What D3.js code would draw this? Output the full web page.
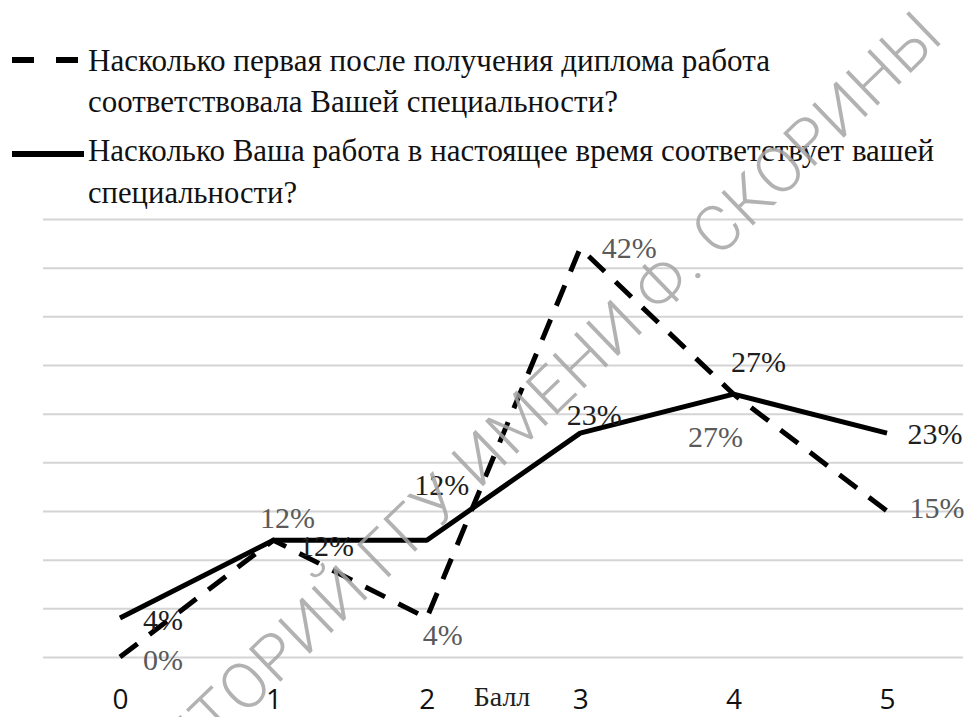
<!DOCTYPE html>
<html>
<head>
<meta charset="utf-8">
<script src="https://cdn.jsdelivr.net/npm/d3@7"></script>
<style>
  body { margin: 0; background: #fff; }
  svg { display: block; }
</style>
</head>
<body>
<div class="chart"></div>
<script>
// Scores 0..5 on the x axis.
var categories = [0, 1, 2, 3, 4, 5];
var tickLabels = ['0', '1', '2', '3', '4', '5'];

// Share of answers, %.
var firstJob = [0, 12, 4, 42, 27, 15];
var currentJob = [4, 12, 12, 23, 27, 23];

var firstJobName = ['Насколько первая после получения диплома работа',
                    'соответствовала  Вашей специальности?'];
var currentJobName = ['Насколько Ваша работа в настоящее время соответствует вашей',
                      'специальности?'];
var axisTitle = 'Балл';
var watermark = 'РЕПОЗИТОРИЙ ГГУ ИМЕНИ Ф. СКОРИНЫ';

// Where each value label sits relative to its point (dx, dy).
var firstJobLabelPos = [[43, 13], [14, -12], [16, 27], [49, 10], [-18, 53], [50, 7]];
var currentJobLabelPos = [[43, 12], [53, 16], [15, -45], [14, -8], [25, -22], [48, 11]];

var serif = '"Liberation Serif", "DejaVu Serif", serif';

drawChart();

function drawChart() {
  const width = 968;
  const height = 717;

  var svg = d3.select('.chart')
              .append('svg')
              .attr('width', width)
              .attr('height', height);

  // Score --> horizontal position
  var x = d3.scalePoint()
            .domain(categories)
            .range([120, 887]);

  // 0..45 % --> bottom..top of the plot
  var y = d3.scaleLinear()
            .domain([0, 45])
            .range([657, 219]);

  // Horizontal gridlines every 5 %, no labels.
  var grid = d3.axisLeft(y)
               .tickValues(d3.range(0, 46, 5))
               .tickSize(920)
               .tickFormat('');

  var gg = svg.append('g')
              .attr('transform', 'translate(963,0)')
              .call(grid);
  gg.select('.domain').remove();
  gg.selectAll('line')
    .attr('stroke', '#d4d4d4')
    .attr('stroke-width', 2);

  // Category labels under the plot.
  var xAxis = d3.axisBottom(x)
                .tickSize(0)
                .tickFormat(function (d, i) { return tickLabels[i]; });

  var gx = svg.append('g')
              .attr('transform', 'translate(0,680)')
              .call(xAxis);
  gx.select('.domain').remove();
  gx.selectAll('text')
    .attr('dy', 0)
    .attr('y', 29)
    .attr('fill', '#111')
    .style('font-family', '"Open Sans", sans-serif')
    .style('font-size', '28px');

  svg.append('text')
     .attr('x', 502)
     .attr('y', 706)
     .attr('text-anchor', 'middle')
     .attr('fill', '#222')
     .style('font-family', serif)
     .style('font-size', '28px')
     .text(axisTitle);

  var line = d3.line()
               .x(function (d, i) { return x(categories[i]); })
               .y(function (d) { return y(d); });

  svg.append('path')
     .datum(firstJob)
     .attr('d', line)
     .attr('fill', 'none')
     .attr('stroke', '#000')
     .attr('stroke-width', 5)
     .attr('stroke-dasharray', '22,15');

  svg.append('path')
     .datum(currentJob)
     .attr('d', line)
     .attr('fill', 'none')
     .attr('stroke', '#000')
     .attr('stroke-width', 5)
     .attr('stroke-linejoin', 'round');

  drawLabels(svg, x, y, firstJob, firstJobLabelPos, '#5a5a5a');
  drawLabels(svg, x, y, currentJob, currentJobLabelPos, '#1e1e1e');

  drawLegend(svg);
  drawWatermark(svg);
}

function drawLabels(svg, x, y, values, pos, color) {
  svg.append('g')
     .selectAll('text')
     .data(values)
     .enter()
     .append('text')
     .attr('x', function (d, i) { return x(categories[i]) + pos[i][0]; })
     .attr('y', function (d, i) { return y(d) + pos[i][1]; })
     .attr('text-anchor', 'middle')
     .attr('fill', color)
     .style('font-family', serif)
     .style('font-size', '30px')
     .text(function (d) { return d + '%'; });
}

function drawLegend(svg) {
  // Dashed entry
  svg.append('line')
     .attr('x1', 12).attr('x2', 80)
     .attr('y1', 60).attr('y2', 60)
     .attr('stroke', '#000')
     .attr('stroke-width', 6)
     .attr('stroke-dasharray', '22,22');

  // Solid entry
  svg.append('line')
     .attr('x1', 12).attr('x2', 84)
     .attr('y1', 154).attr('y2', 154)
     .attr('stroke', '#000')
     .attr('stroke-width', 6);

  var rows = [
    {text: firstJobName[0], y: 71, len: 682},
    {text: firstJobName[1], y: 112, len: 530},
    {text: currentJobName[0], y: 161, len: 846},
    {text: currentJobName[1], y: 203, len: 209}
  ];

  svg.append('g')
     .selectAll('text')
     .data(rows)
     .enter()
     .append('text')
     .attr('x', 88)
     .attr('y', function (d) { return d.y; })
     .attr('textLength', function (d) { return d.len; })
     .attr('lengthAdjust', 'spacingAndGlyphs')
     .attr('fill', '#111')
     .style('font-family', serif)
     .style('font-size', '31px')
     .text(function (d) { return d.text; });
}

// Thin diagonal repository stamp (runs off the bottom-left edge, as in the scan).
function drawWatermark(svg) {
  var target = 1268;

  var wm = svg.append('text')
              .attr('text-anchor', 'end')
              .attr('fill', '#a4a4a4')
              .attr('fill-opacity', 0.85)
              .style('font-family', 'Roboto, sans-serif')
              .style('font-weight', 300)
              .style('font-size', '64px')
              .text(watermark);

  // Widen the letter spacing until the stamp is as long as in the scan.
  var natural = wm.node().getComputedTextLength();
  var spacing = (target - natural) / watermark.length;
  wm.style('letter-spacing', spacing + 'px');

  // With letter-spacing the end anchor includes one trailing gap; shift it back.
  wm.attr('transform', 'translate(945,40) rotate(-44) translate(' + spacing + ',0)');
}
</script>
</body>
</html>
